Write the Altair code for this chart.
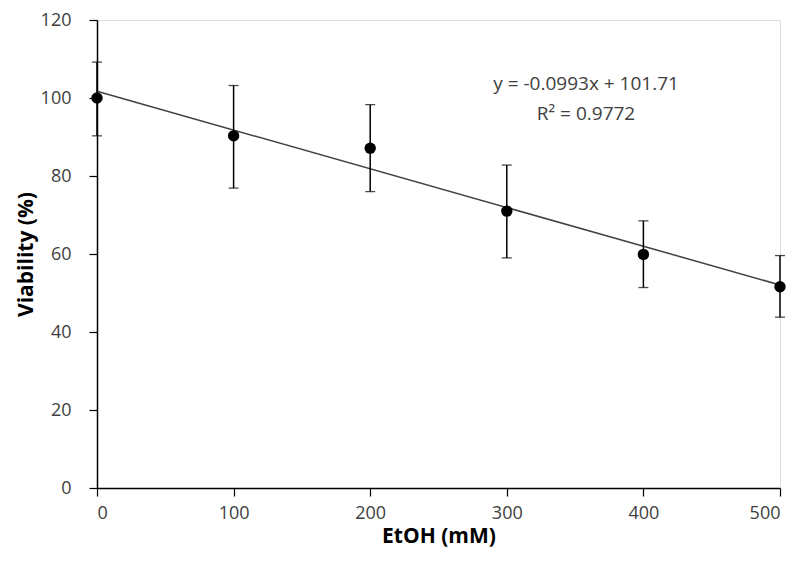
import altair as alt
import pandas as pd

etoh = [0, 100, 200, 300, 400, 500]
viability = [100.0, 90.3, 87.1, 71.0, 59.9, 51.6]
err_low = [90.3, 76.9, 76.0, 59.0, 51.4, 43.8]
err_high = [109.2, 103.2, 98.3, 82.8, 68.5, 59.6]

slope = -0.0993
intercept = 101.71
fit_x = [0, 500]
fit_y = [intercept + slope * v for v in fit_x]

eq_lines = ["y = -0.0993x + 101.71", "R² = 0.9772"]
eq_x = [358, 358]
eq_y = [103.6, 95.9]

df = pd.DataFrame({"x": etoh, "y": viability, "lo": err_low, "hi": err_high})
fit = pd.DataFrame({"x": fit_x, "y": fit_y})
eq = pd.DataFrame({"t": eq_lines, "x": eq_x, "y": eq_y})

FONT = "Open Sans"
xs = alt.Scale(domain=[0, 500], nice=False, zero=False)
ys = alt.Scale(domain=[0, 120], nice=False)

xax = alt.Axis(values=[0, 100, 200, 300, 400, 500], title="EtOH (mM)", grid=False,
               tickSize=8, tickColor="black", domainColor="black", tickWidth=1.2, domainWidth=1.5,
               labelFont=FONT, labelFontSize=18, labelColor="#404040", labelPadding=8,
               titleFont=FONT, titleFontSize=21, titleFontWeight="bold", titleColor="black",
               titlePadding=3)
yax = alt.Axis(values=[0, 20, 40, 60, 80, 100, 120], title="Viability (%)", grid=False,
               tickSize=8, tickColor="black", domainColor="black", tickWidth=1.2, domainWidth=1.5,
               labelFont=FONT, labelFontSize=18, labelColor="#404040", labelPadding=18,
               titleFont=FONT, titleFontSize=21, titleFontWeight="bold", titleColor="black",
               titlePadding=4)

base = alt.Chart(df)

line = alt.Chart(fit).mark_line(color="#404040", strokeWidth=1.5).encode(
    x=alt.X("x:Q", scale=xs, axis=xax), y=alt.Y("y:Q", scale=ys, axis=yax))

bars = base.mark_rule(color="black", strokeWidth=1.5).encode(
    x=alt.X("x:Q", scale=xs), y=alt.Y("lo:Q", scale=ys), y2="hi:Q")

cap_lo = base.mark_tick(color="black", orient="horizontal", size=10, thickness=1.3).encode(
    x=alt.X("x:Q", scale=xs), y=alt.Y("lo:Q", scale=ys))
cap_hi = base.mark_tick(color="black", orient="horizontal", size=10, thickness=1.3).encode(
    x=alt.X("x:Q", scale=xs), y=alt.Y("hi:Q", scale=ys))

pts = base.mark_circle(color="black", opacity=1, size=130).encode(
    x=alt.X("x:Q", scale=xs), y=alt.Y("y:Q", scale=ys))

txt = alt.Chart(eq).mark_text(font=FONT, fontSize=19, color="#404040", align="center", baseline="middle").encode(
    x=alt.X("x:Q", scale=xs), y=alt.Y("y:Q", scale=ys), text="t:N")

chart = alt.layer(line, bars, cap_lo, cap_hi, pts, txt).properties(
    width=683, height=468,
    autosize=alt.AutoSizeParams(type="none"),
    padding={"left": 89, "top": 12, "right": 8, "bottom": 69},
).configure_view(stroke="black", strokeWidth=1.5).configure(background="white")

chart.save("out.html", embed_options={"renderer": "svg", "actions": False})
